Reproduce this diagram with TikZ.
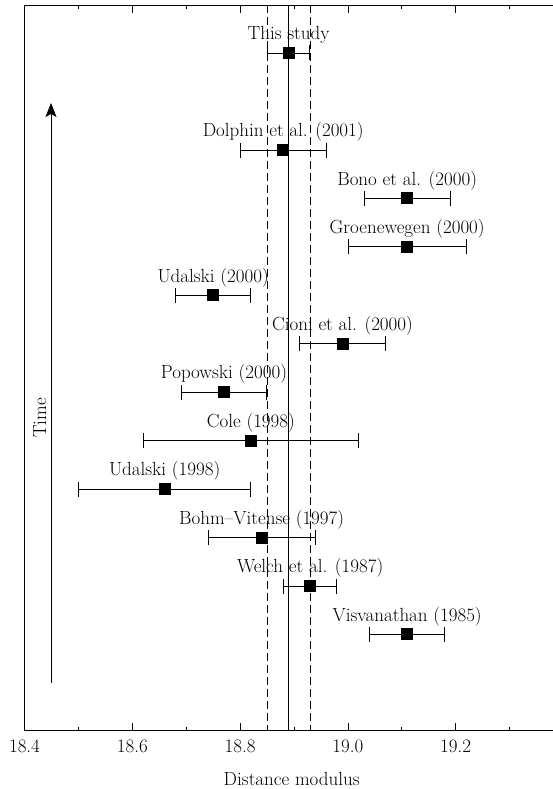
\documentclass[tikz,border=0pt]{standalone}
\usepackage{tikz}
\usetikzlibrary{positioning, arrows.meta}

\tikzset{
  pnt/.style={rectangle, fill=black, minimum size=12pt, inner sep=0pt},
  lbl/.style={text height=13pt, text depth=5pt, inner sep=0pt},
  errbar/.style={line width=0.8pt, {Bar[width=15pt]}-{Bar[width=15pt]}},
}

\begin{document}
\begin{tikzpicture}[x=1pt, y=-1pt, font=\fontsize{19}{23}\selectfont, line width=0.8pt]
    \useasboundingbox (0,0) rectangle (553,789);
    % frame and axis titles
    \draw (553,5) -- (24.5,5) -- (24.5,730.7) -- (553,730.7);
    \coordinate (past) at (51,683);
    \coordinate (now) at (51,103);
    \draw[-{Stealth[length=14pt, width=11pt, inset=3pt]}] (past) -- (now);
    \node[rotate=90, anchor=base] (time) at (46,418) {Time};
    \node[anchor=base] (xlabel) at (291.7,785) {Distance modulus};

    \begin{scope}[x=539pt, xshift=-9893.1pt]
    % ticks
    \foreach \m [count=\i] in {18.4,18.6,18.8,19.0,19.2} {
        \draw (\m,730.7) -- (\m,722.7) (\m,5) -- (\m,13);
        \node[anchor=base] (tick\i) at (\m,752) {\m};
    }
    \foreach \m in {18.5,18.7,18.9,19.1,19.3}
        \draw (\m,730.7) -- (\m,726.7) (\m,5) -- (\m,9);

    % mean and its range
    \coordinate (mean-t) at (18.89,5);
    \coordinate (mean-b) at (18.89,730.7);
    \coordinate (low-t) at (18.85,5);
    \coordinate (low-b) at (18.85,730.7);
    \coordinate (high-t) at (18.93,5);
    \coordinate (high-b) at (18.93,730.7);
    \draw (mean-t) -- (mean-b);
    \draw[dash pattern=on 8pt off 4pt] (low-t) -- (low-b);
    \draw[dash pattern=on 8pt off 4pt] (high-t) -- (high-b);

    % measurements
    \coordinate (this-l) at (18.85,53);
    \coordinate (this-r) at (18.93,53);
    \draw[errbar] (this-l) -- (this-r);
    \node[pnt] (this) at (18.89,53) {};
    \node[lbl, above=1.5pt of this] (this-t) {This study};

    \coordinate (dolphin-l) at (18.80,150);
    \coordinate (dolphin-r) at (18.96,150);
    \draw[errbar] (dolphin-l) -- (dolphin-r);
    \node[pnt] (dolphin) at (18.88,150) {};
    \node[lbl, above=1.5pt of dolphin] (dolphin-t) {Dolphin et al. (2001)};

    \coordinate (bono-l) at (19.03,198.4);
    \coordinate (bono-r) at (19.19,198.4);
    \draw[errbar] (bono-l) -- (bono-r);
    \node[pnt] (bono) at (19.11,198.4) {};
    \node[lbl, above=1.5pt of bono] (bono-t) {Bono et al. (2000)};

    \coordinate (groen-l) at (19.00,246.8);
    \coordinate (groen-r) at (19.22,246.8);
    \draw[errbar] (groen-l) -- (groen-r);
    \node[pnt] (groen) at (19.11,246.8) {};
    \node[lbl, above=1.5pt of groen] (groen-t) {Groenewegen (2000)};

    \coordinate (udal00-l) at (18.68,295.3);
    \coordinate (udal00-r) at (18.82,295.3);
    \draw[errbar] (udal00-l) -- (udal00-r);
    \node[pnt] (udal00) at (18.75,295.3) {};
    \node[lbl, above=1.5pt of udal00] (udal00-t) {Udalski (2000)};

    \coordinate (cioni-l) at (18.91,343.7);
    \coordinate (cioni-r) at (19.07,343.7);
    \draw[errbar] (cioni-l) -- (cioni-r);
    \node[pnt] (cioni) at (18.99,343.7) {};
    \node[lbl, above=1.5pt of cioni] (cioni-t) {Cioni et al. (2000)};

    \coordinate (popow-l) at (18.69,392.2);
    \coordinate (popow-r) at (18.85,392.2);
    \draw[errbar] (popow-l) -- (popow-r);
    \node[pnt] (popow) at (18.77,392.2) {};
    \node[lbl, above=1.5pt of popow] (popow-t) {Popowski (2000)};

    \coordinate (cole-l) at (18.62,440.6);
    \coordinate (cole-r) at (19.02,440.6);
    \draw[errbar] (cole-l) -- (cole-r);
    \node[pnt] (cole) at (18.82,440.6) {};
    \node[lbl, above=1.5pt of cole] (cole-t) {Cole (1998)};

    \coordinate (udal98-l) at (18.50,489.1);
    \coordinate (udal98-r) at (18.82,489.1);
    \draw[errbar] (udal98-l) -- (udal98-r);
    \node[pnt] (udal98) at (18.66,489.1) {};
    \node[lbl, above=1.5pt of udal98] (udal98-t) {Udalski (1998)};

    \coordinate (bohm-l) at (18.74,537.5);
    \coordinate (bohm-r) at (18.94,537.5);
    \draw[errbar] (bohm-l) -- (bohm-r);
    \node[pnt] (bohm) at (18.84,537.5) {};
    \node[lbl, above=1.5pt of bohm] (bohm-t) {Bohm--Vitense (1997)};

    \coordinate (welch-l) at (18.88,586);
    \coordinate (welch-r) at (18.98,586);
    \draw[errbar] (welch-l) -- (welch-r);
    \node[pnt] (welch) at (18.93,586) {};
    \node[lbl, above=1.5pt of welch] (welch-t) {Welch et al. (1987)};

    \coordinate (visv-l) at (19.04,634.4);
    \coordinate (visv-r) at (19.18,634.4);
    \draw[errbar] (visv-l) -- (visv-r);
    \node[pnt] (visv) at (19.11,634.4) {};
    \node[lbl, above=1.5pt of visv] (visv-t) {Visvanathan (1985)};
    \end{scope}
\end{tikzpicture}
\end{document}
